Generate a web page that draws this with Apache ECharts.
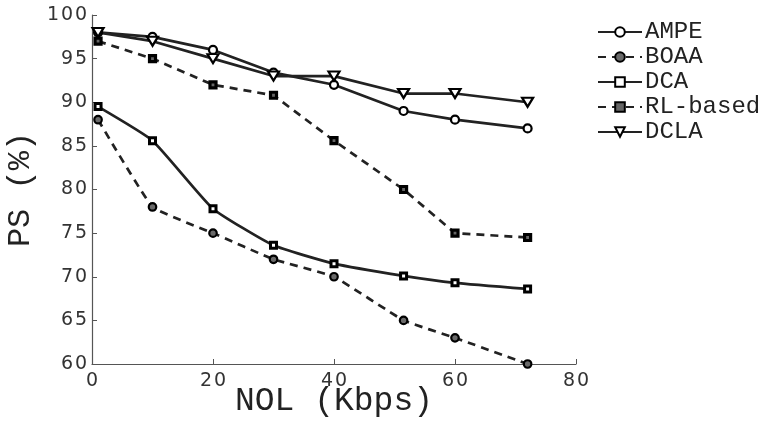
<!DOCTYPE html>
<html><head><meta charset="utf-8">
<script src="https://cdn.jsdelivr.net/npm/echarts@6/dist/echarts.min.js"></script>
<style>html,body{margin:0;padding:0;background:#fff}#c{width:769px;height:421px}</style>
</head><body><div id="c"></div>
<script>
const xValues = [1, 10, 20, 30, 40, 51.5, 60, 72];
const AMPE = [98, 97.5, 96, 93.4, 92, 89, 88, 87];
const BOAA = [88, 78, 75, 72, 70, 65, 63, 60];
const DCA = [89.5, 85.6, 77.8, 73.6, 71.5, 70.1, 69.3, 68.6];
const RL = [97, 95, 92, 90.8, 85.6, 80, 75, 74.5];
const DCLA = [98, 97, 95, 93, 93, 91, 91, 90];
const xTicks = [0, 20, 40, 60, 80];
const yTicks = [60, 65, 70, 75, 80, 85, 90, 95, 100];

const mono = 'Liberation Mono';
const tickFont = 'DejaVu Sans';
function pairs(arr){ return arr.map((v,i)=>[xValues[i], v]); }
function mk(name, data, dashed, symbol, fill, smooth, size, bw){
  return {
    name, type:'line', data: pairs(data), smooth: smooth,
    symbol, symbolSize: size, showSymbol:true,
    lineStyle:{color:'#222', width:2.7, type: dashed ? [8,6] : 'solid'},
    itemStyle:{color: fill, borderColor:'#000', borderWidth:bw},
    emphasis:{disabled:true}
  };
}
const chart = echarts.init(document.getElementById('c'));
chart.setOption({
  animation:false,
  backgroundColor:'#fff',
  grid:{left:92, right:193, top:15, bottom:57, outerBoundsMode:'none', containLabel:false},
  xAxis:{type:'value', min:0, max:80, interval:20,
    name:'NOL (Kbps)', nameLocation:'middle', nameGap:21, nameMoveOverlap:false,
    nameTextStyle:{fontFamily:mono, fontSize:33, color:'#222'},
    axisLine:{lineStyle:{color:'#555', width:1.2}},
    axisTick:{inside:true, length:5, lineStyle:{color:'#555'}},
    axisLabel:{fontFamily:tickFont, fontSize:19, color:'#333', margin:8,
      formatter:v=> xTicks.includes(v) ? String(v).split('').join('\u200a') : ''},
    splitLine:{show:false}},
  yAxis:{type:'value', min:60, max:100, interval:5,
    name:'PS (%)', nameLocation:'middle', nameGap:55, nameRotate:90, nameMoveOverlap:false,
    nameTextStyle:{fontFamily:mono, fontSize:32, color:'#222'},
    axisLine:{show:true, lineStyle:{color:'#555', width:1.2}},
    axisTick:{show:true, inside:true, length:5, lineStyle:{color:'#555'}},
    axisLabel:{fontFamily:tickFont, fontSize:19, color:'#333', margin:5,
      formatter:v=> yTicks.includes(v) ? String(v).split('').join('\u200a') : ''},
    splitLine:{show:false}},
  legend:{orient:'vertical', left:597, top:20, padding:0, itemWidth:44, itemHeight:12, itemGap:1,
    textStyle:{fontFamily:mono, fontSize:24, lineHeight:24, color:'#222', padding:[0,0,0,-2]},
    data:['AMPE','BOAA','DCA','RL-based','DCLA']},
  series:[
    mk('AMPE', AMPE, false, 'circle', '#fff', false, 8, 2.2),
    mk('BOAA', BOAA, true, 'circle', '#6a6a6a', 0.1, 7.5, 2.2),
    mk('DCA', DCA, false, 'rect', '#fff', 0.15, 6, 3),
    mk('RL-based', RL, true, 'rect', '#666', false, 6, 3.2),
    mk('DCLA', DCLA, false, 'triangle', '#fff', false, [11,9], 2.2)
  ]
});
chart.setOption({series:[{},{},{},{},{symbolRotate:180}]});
</script></body></html>
